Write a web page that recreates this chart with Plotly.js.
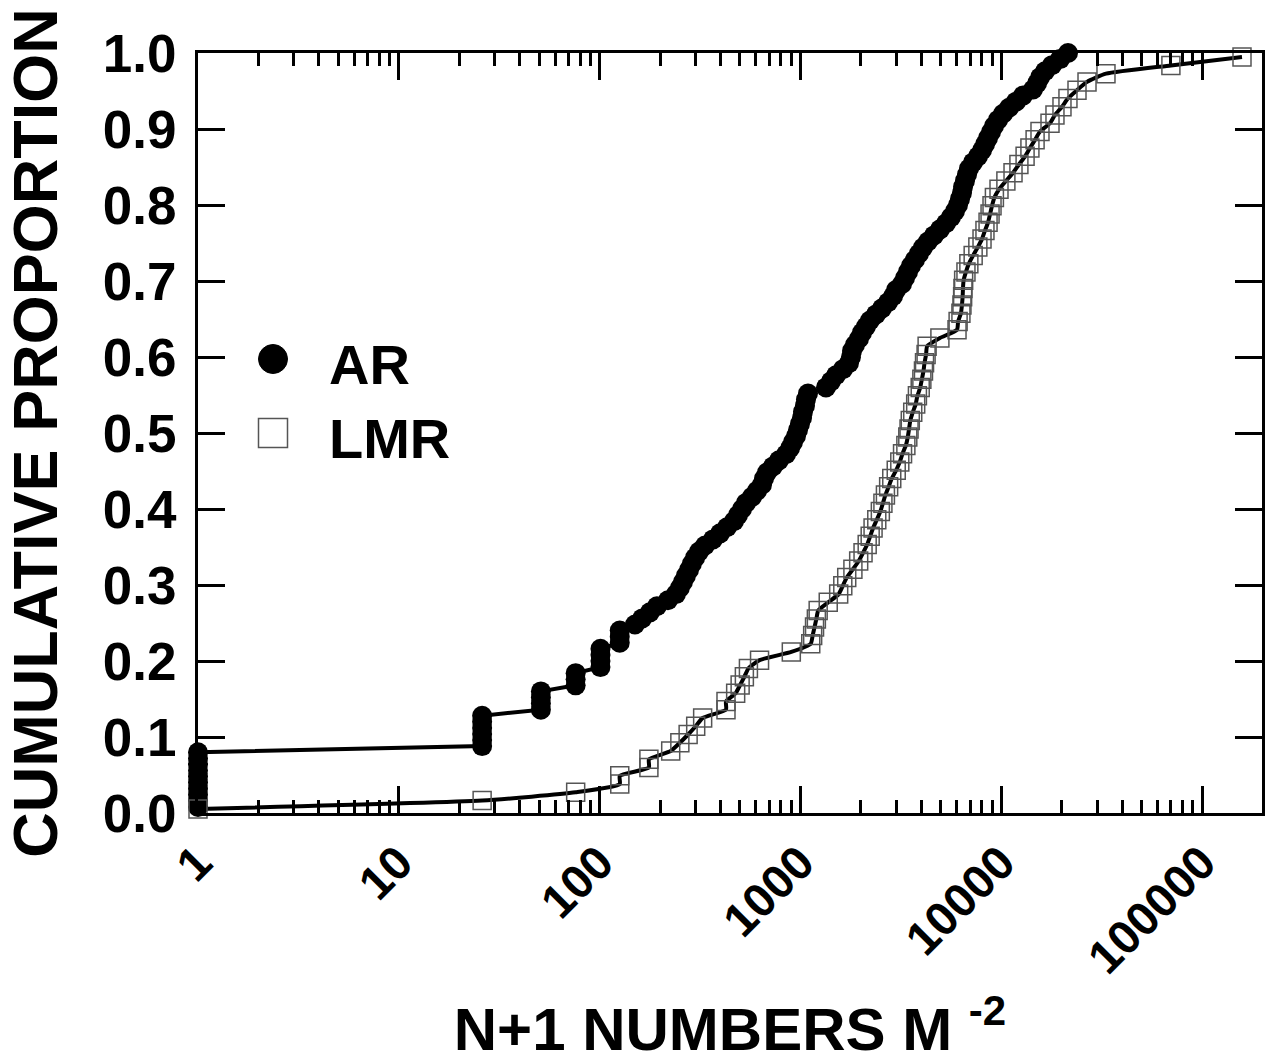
<!DOCTYPE html>
<html>
<head>
<meta charset="utf-8">
<script src="https://cdn.plot.ly/plotly-3.0.1.min.js"></script>
<style>html,body{margin:0;padding:0;background:#fff;}#chart{width:1272px;height:1063px;}</style>
</head>
<body>
<div id="chart"></div>
<script>
// ---- data ----
const arX = [1,1,1,1,1,1,1,1,1,1, 26,26,26,26,26,26, 51,51,51,51, 76,76,76, 101,101,101,101, 126,126,126,
  150,163,178,193,219,240,251,260,269,279,
  288,299,313,335,367,398,431,467,489,512,
  536,574,608,644,659,682,730,782,848,888,
  919,951,973,995,1019,1030,1054,1066,1091,1341,
  1420,1504,1630,1746,1786,1807,1870,1958,2027,2122,
  2221,2379,2549,2732,2892,2993,3206,3318,3435,3555,
  3722,3896,4079,4320,4628,4958,5311,5623,5887,6094,
  6236,6381,6455,6604,6757,6914,7238,7665,8025,8306,
  8597,8897,9208,9640,10210,10940,11850,12840,14400,15080,
  15610,16530,17910,19630,21510];
const arY = [0.008,0.016,0.024,0.032,0.040,0.048,0.056,0.064,0.072,0.080,
  0.088,0.096,0.104,0.112,0.120,0.128, 0.136,0.144,0.152,0.160, 0.168,0.176,0.184,
  0.192,0.200,0.208,0.216, 0.224,0.232,0.240,
  0.248,0.256,0.264,0.272,0.280,0.288,0.296,0.304,0.312,0.320,
  0.328,0.336,0.344,0.352,0.360,0.368,0.376,0.384,0.392,0.400,
  0.408,0.416,0.424,0.432,0.440,0.448,0.456,0.464,0.472,0.480,
  0.488,0.496,0.504,0.512,0.520,0.528,0.536,0.544,0.552,0.560,
  0.568,0.576,0.584,0.592,0.600,0.608,0.616,0.624,0.632,0.640,
  0.648,0.656,0.664,0.672,0.680,0.688,0.696,0.704,0.712,0.720,
  0.728,0.736,0.744,0.752,0.760,0.768,0.776,0.784,0.792,0.800,
  0.808,0.816,0.824,0.832,0.840,0.848,0.856,0.864,0.872,0.880,
  0.888,0.896,0.904,0.912,0.920,0.928,0.936,0.944,0.952,0.960,
  0.968,0.976,0.984,0.992,1.000];

const lmrX = [1,26,76,126,126,176,176,226,251,276,
  301,326,426,426,476,501,526,551,626,901,
  1126,1151,1176,1201,1226,1376,1551,1626,1701,1826,
  1951,2051,2151,2226,2301,2401,2501,2576,2651,2751,
  2851,3001,3126,3226,3351,3426,3476,3526,3626,3751,
  3826,3951,4026,4101,4151,4226,4276,4951,6026,6101,
  6301,6376,6426,6451,6501,6676,6901,7251,7651,8026,
  8301,8601,8801,9001,9251,9751,10551,11451,12251,13151,
  13901,14751,15601,17501,18526,20076,21501,23851,26751,33251,
  70001,158201];
const lmrY = [0.0054,0.0163,0.0272,0.0380,0.0489,0.0598,0.0707,0.0815,0.0924,0.1033,
  0.1141,0.1250,0.1359,0.1467,0.1576,0.1685,0.1793,0.1902,0.2011,0.2120,
  0.2228,0.2337,0.2446,0.2554,0.2663,0.2772,0.2880,0.2989,0.3098,0.3207,
  0.3315,0.3424,0.3533,0.3641,0.3750,0.3859,0.3967,0.4076,0.4185,0.4293,
  0.4402,0.4511,0.4620,0.4728,0.4837,0.4946,0.5054,0.5163,0.5272,0.5380,
  0.5489,0.5598,0.5707,0.5815,0.5924,0.6033,0.6141,0.6250,0.6359,0.6467,
  0.6576,0.6685,0.6793,0.6902,0.7011,0.7120,0.7228,0.7337,0.7446,0.7554,
  0.7663,0.7772,0.7880,0.7989,0.8098,0.8207,0.8315,0.8424,0.8533,0.8641,
  0.8750,0.8859,0.8967,0.9076,0.9185,0.9293,0.9402,0.9511,0.9620,0.9728,
  0.9837,0.9946];

const xTickVals = [1,10,100,1000,10000,100000];
const xTickText = ['1','10','100','1000','10000','100000'];
const yTickVals = [0,0.1,0.2,0.3,0.4,0.5,0.6,0.7,0.8,0.9,1.0];
const seriesNames = ['AR','LMR'];

// ---- chart ----
const FONT = 'Liberation Sans, Arial, Helvetica, sans-serif';

const traces = [
  {
    x: arX, y: arY, name: seriesNames[0], type: 'scatter', mode: 'lines+markers',
    line: {color: '#000', width: 4},
    marker: {symbol: 'circle', size: 20, color: '#000'},
    cliponaxis: false, showlegend: false
  },
  {
    x: lmrX, y: lmrY, name: seriesNames[1], type: 'scatter', mode: 'lines+markers',
    line: {color: '#000', width: 4, shape: 'spline', smoothing: 0.5},
    marker: {symbol: 'square-open', size: 18, color: '#555', line: {width: 1.5, color: '#555'}},
    cliponaxis: false, showlegend: false
  }
];

const legendX0 = (258.5-198)/1064, legendX1 = (287.5-198)/1064;
const layout = {
  width: 1272, height: 1063,
  margin: {l: 198, r: 10, t: 53, b: 250, pad: 0},
  paper_bgcolor: '#fff', plot_bgcolor: '#fff',
  font: {family: FONT, color: '#000', weight: 'bold'},
  xaxis: {
    type: 'log', range: [0, 5.2988],
    showline: true, linewidth: 3, linecolor: '#000', mirror: 'ticks',
    showgrid: false, zeroline: false,
    ticks: 'inside', ticklen: 27, tickwidth: 3, tickcolor: '#000',
    tickvals: xTickVals, ticktext: xTickText, tickangle: -45,
    tickfont: {family: FONT, size: 47, weight: 'bold', color: '#000'},
    minor: {ticks: 'inside', ticklen: 13, tickwidth: 3, tickcolor: '#000', dtick: 'D1', showgrid: false},
    title: {text: 'N+1 NUMBERS M <sup>-2</sup>', font: {family: FONT, size: 60, weight: 'bold', color: '#000'}, standoff: 34},
    automargin: false
  },
  yaxis: {
    range: [0, 1],
    showline: true, linewidth: 3, linecolor: '#000', mirror: 'ticks',
    showgrid: false, zeroline: false,
    ticks: 'inside', ticklen: 27, tickwidth: 3, tickcolor: '#000',
    tickvals: yTickVals, tickformat: '.1f',
    tickfont: {family: FONT, size: 53, weight: 'bold', color: '#000'},
    ticklabelstandoff: 8,
    title: {text: 'CUMULATIVE PROPORTION', font: {family: FONT, size: 63, weight: 'bold', color: '#000'}, standoff: 26},
    automargin: false
  },
  shapes: [
    {type: 'circle', xref: 'paper', yref: 'paper', x0: legendX0, x1: legendX1,
     y0: (813-373.5)/760, y1: (813-344.5)/760, fillcolor: '#000', line: {color: '#000', width: 1}},
    {type: 'rect', xref: 'paper', yref: 'paper', x0: legendX0, x1: legendX1,
     y0: (813-447.5)/760, y1: (813-418.5)/760, fillcolor: 'rgba(0,0,0,0)', line: {color: '#555', width: 1.5}}
  ],
  annotations: [
    {text: seriesNames[0], xref: 'paper', yref: 'paper', x: (327-198)/1064, y: (813-364)/760,
     xanchor: 'left', yanchor: 'middle', showarrow: false, font: {family: FONT, size: 56, weight: 'bold', color: '#000'}},
    {text: seriesNames[1], xref: 'paper', yref: 'paper', x: (327-198)/1064, y: (813-438)/760,
     xanchor: 'left', yanchor: 'middle', showarrow: false, font: {family: FONT, size: 56, weight: 'bold', color: '#000'}}
  ]
};

Plotly.newPlot('chart', traces, layout, {displayModeBar: false, staticPlot: true});
</script>
</body>
</html>
